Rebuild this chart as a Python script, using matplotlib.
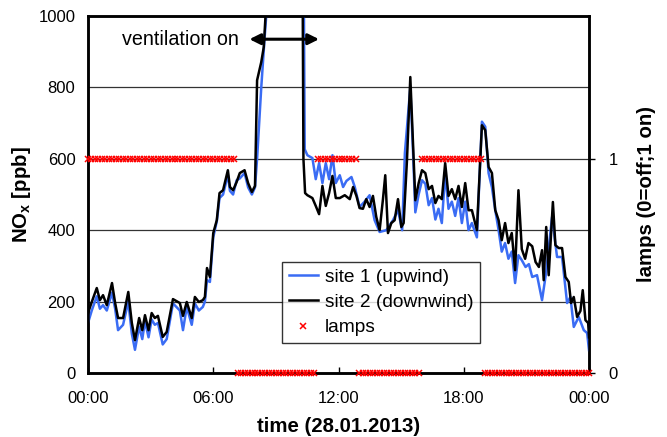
import numpy as np
import matplotlib
matplotlib.use("Agg")
import matplotlib.pyplot as plt

plt.rcParams['font.family'] = ['Liberation Sans', 'DejaVu Sans']
plt.rcParams['mathtext.fontset'] = 'custom'
plt.rcParams['mathtext.rm'] = 'Liberation Sans'
plt.rcParams['mathtext.bf'] = 'Liberation Sans:bold'

# ---- data (hours since 00:00, NOx in ppb) ----
t_site2 = [0.0, 0.18, 0.42, 0.57, 0.72, 0.9, 1.15, 1.3, 1.44, 1.68, 1.93, 2.1, 2.25, 2.45, 2.6,
           2.73, 2.9, 3.05, 3.2, 3.35, 3.58, 3.77, 4.07, 4.4, 4.55, 4.73, 4.97, 5.12, 5.31, 5.5,
           5.6, 5.7, 5.84, 6.0, 6.17, 6.3, 6.47, 6.7, 6.8, 6.95, 7.12, 7.27, 7.5, 7.67, 7.85,
           8.0, 8.1, 8.3, 8.42, 8.6, 9.0, 9.5, 10.0, 10.25, 10.32, 10.4, 10.51, 10.75, 10.91,
           11.07, 11.23, 11.39, 11.55, 11.71, 11.87, 12.06, 12.3, 12.54, 12.7, 12.86, 13.01,
           13.17, 13.33, 13.49, 13.65, 13.81, 13.97, 14.13, 14.24, 14.37, 14.53, 14.69, 14.85,
           15.01, 15.12, 15.28, 15.44, 15.57, 15.68, 15.84, 16.0, 16.16, 16.32, 16.48, 16.64,
           16.79, 16.95, 17.11, 17.27, 17.43, 17.59, 17.75, 17.91, 18.07, 18.23, 18.39, 18.63,
           18.87, 19.03, 19.19, 19.35, 19.51, 19.67, 19.82, 19.98, 20.14, 20.3, 20.46, 20.62,
           20.78, 20.94, 21.1, 21.28, 21.44, 21.6, 21.75, 21.83, 21.95, 22.07, 22.27, 22.39,
           22.55, 22.71, 22.87, 23.03, 23.14, 23.27, 23.43, 23.59, 23.7, 23.83, 23.96, 24.0]
nox_site2 = [168, 199, 238, 204, 218, 190, 252, 196, 154, 154, 227, 140, 92, 154, 120,
             162, 120, 168, 154, 160, 101, 115, 207, 196, 160, 199, 154, 213, 199, 204,
             213, 294, 269, 392, 428, 504, 512, 568, 521, 512, 535, 560, 568, 532, 507,
             524, 820, 871, 913, 1100, 1500, 1500, 1500, 1500, 600, 504, 498, 490, 468,
             445, 524, 468, 504, 552, 490, 490, 498, 487, 521, 496, 462,
             460, 487, 465, 496, 437, 400, 487, 554, 392, 420, 428, 487,
             409, 420, 596, 829, 644, 484, 532, 568, 560, 515, 524, 476,
             496, 487, 588, 496, 515, 487, 524, 465, 532, 456, 456, 400,
             694, 680, 577, 560, 456, 428, 372, 420, 364, 392, 288, 512,
             347, 320, 364, 355, 311, 297, 344, 260, 409, 274, 479, 358,
             350, 350, 269, 255, 196, 213, 157, 174, 232, 148, 140, 100]

t_site1 = [0.0, 0.18, 0.42, 0.57, 0.72, 0.9, 1.15, 1.3, 1.44, 1.68, 1.93, 2.1, 2.25, 2.45, 2.6,
           2.73, 2.9, 3.05, 3.2, 3.35, 3.58, 3.77, 4.07, 4.4, 4.55, 4.73, 4.97, 5.12, 5.31, 5.5,
           5.6, 5.7, 5.84, 6.0, 6.17, 6.3, 6.47, 6.7, 6.8, 6.95, 7.12, 7.27, 7.5, 7.67, 7.85,
           8.0, 8.1, 8.3, 8.45, 8.6, 9.0, 9.5, 10.0, 10.3, 10.38, 10.51, 10.75, 10.91, 11.07,
           11.23, 11.39, 11.55, 11.71, 11.87, 12.06, 12.22, 12.38, 12.62, 12.78, 13.01, 13.25,
           13.49, 13.73, 13.97, 14.29, 14.61, 14.85, 15.05, 15.18, 15.3, 15.44, 15.57, 15.68,
           15.84, 16.0, 16.16, 16.32, 16.48, 16.64, 16.79, 16.95, 17.11, 17.27, 17.43, 17.59,
           17.75, 17.91, 18.07, 18.23, 18.39, 18.63, 18.87, 19.03, 19.19, 19.35, 19.51, 19.67,
           19.82, 19.98, 20.14, 20.3, 20.46, 20.62, 20.78, 20.96, 21.12, 21.28, 21.51, 21.75,
           21.95, 22.23, 22.47, 22.71, 22.95, 23.11, 23.27, 23.51, 23.75, 23.91, 24.0]
nox_site1 = [140, 175, 215, 180, 190, 175, 225, 180, 120, 135, 200, 110, 65, 130, 95,
             145, 100, 150, 135, 140, 80, 95, 195, 175, 120, 185, 135, 195, 175, 185,
             200, 260, 255, 380, 425, 490, 500, 555, 510, 500, 540, 545, 560, 520, 500,
             520, 600, 800, 930, 1050, 1500, 1500, 1500, 1500, 627, 610, 602, 543, 588,
             532, 588, 543, 610, 532, 554, 521, 538, 549, 521, 465, 480,
             498, 428, 395, 400, 428, 456, 400, 616, 700, 800, 620, 450,
             500, 540, 530, 470, 490, 430, 460, 420, 560, 460, 480, 440,
             490, 420, 480, 400, 420, 380, 704, 690, 560, 520, 456, 400,
             340, 364, 320, 340, 252, 330, 316, 297, 305, 269, 274, 204,
             283, 437, 325, 325, 196, 213, 129, 157, 120, 112, 64]

lamp_on_periods = [(0.0, 7.05), (11.0, 13.0), (16.0, 19.0)]
lamp_step_h = 1.0 / 6.0  # 10-minute samples

tick_hours = [0, 6, 12, 18, 24]
tick_labels = ["00:00", "06:00", "12:00", "18:00", "00:00"]

# lamp samples
lamp_t = np.arange(0, 24 + 1e-9, lamp_step_h)
lamp_state = np.zeros_like(lamp_t)
for a, b in lamp_on_periods:
    lamp_state[(lamp_t >= a) & (lamp_t < b)] = 1

fig = plt.figure(figsize=(6.67, 4.37), dpi=100)
ax = fig.add_axes([88/667, 1-373/437, (589-88)/667, (373-16)/437])

ax.plot(t_site1, nox_site1, color='#3a6cf4', lw=1.8, label='site 1 (upwind)', zorder=3)
ax.plot(t_site2, nox_site2, color='black', lw=1.8, label='site 2 (downwind)', zorder=4)

ax.set_xlim(0, 24)
ax.set_ylim(0, 1000)
ax.set_yticks(range(0, 1001, 200))
ax.set_xticks(tick_hours)
ax.set_xticklabels(tick_labels)
for y in range(200, 1000, 200):
    ax.axhline(y, color='#333333', lw=0.9, zorder=1)
ax.tick_params(axis='x', direction='in', length=4, width=1, labelsize=12, pad=13)
ax.tick_params(axis='y', direction='in', length=0, labelsize=12, pad=9)
for s in ax.spines.values():
    s.set_linewidth(1.8)

ax.set_ylabel(r'NO$_\mathbf{x}$ [ppb]', fontsize=14.7, fontweight='bold', labelpad=4)
ax.set_xlabel('time (28.01.2013)', fontsize=14.7, fontweight='bold', labelpad=8)

ax2 = ax.twinx()
ax2.set_ylim(0, 1000/600)
ax2.set_yticks([0, 1])
ax2.plot(lamp_t, lamp_state, linestyle='none', marker='x', color='red', ms=4.5, mew=1.1,
         label='lamps', clip_on=False, zorder=5)
ax2.tick_params(axis='y', direction='out', length=4, width=1, labelsize=12, pad=10)
for s in ax2.spines.values():
    s.set_linewidth(1.8)
ax2.set_ylabel('lamps (0=off;1 on)', fontsize=14.7, fontweight='bold', labelpad=14)

# annotation
ax.annotate('', xy=(7.6, 935), xytext=(11.2, 935),
            arrowprops=dict(arrowstyle='<|-|>', color='black', lw=2.2, mutation_scale=16),
            zorder=6)
ax.text(7.22, 935, 'ventilation on', ha='right', va='center', fontsize=14.2, zorder=6)

h1, l1 = ax.get_legend_handles_labels()
h2, l2 = ax2.get_legend_handles_labels()
leg = ax2.legend(h1 + h2, l1 + l2, loc='upper left', bbox_to_anchor=(0.387, 0.311),
                 fontsize=13.8, frameon=True, fancybox=False, edgecolor='black',
                 borderaxespad=0, handlelength=1.55, labelspacing=0.4, borderpad=0.35,
                 handletextpad=0.35)
leg.get_frame().set_linewidth(1.0)

fig.savefig('out.png', dpi=100)
